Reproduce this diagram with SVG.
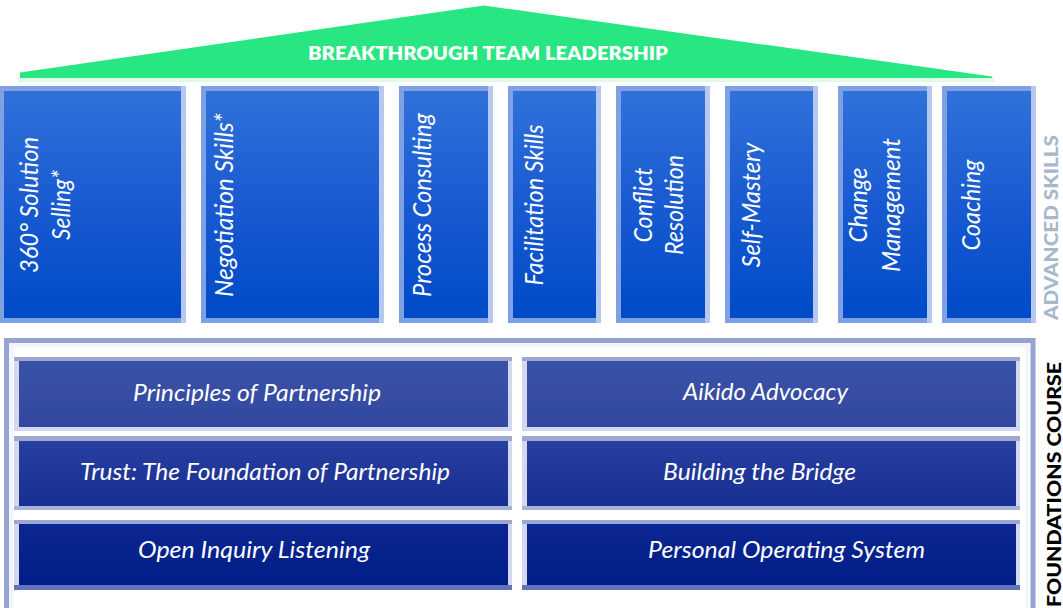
<svg xmlns="http://www.w3.org/2000/svg" width="1063" height="608" viewBox="0 0 1063 608">
  <defs>
    <linearGradient id="pillarFill" x1="0" y1="0" x2="0" y2="1">
      <stop offset="0" stop-color="#3072da"/>
      <stop offset="0.45" stop-color="#1b5cd2"/>
      <stop offset="1" stop-color="#004ac8"/>
    </linearGradient>
    <linearGradient id="barFill" gradientUnits="userSpaceOnUse" x1="0" y1="361" x2="0" y2="585">
      <stop offset="0" stop-color="#3a52a6"/>
      <stop offset="0.295" stop-color="#3248a0"/>
      <stop offset="0.357" stop-color="#283fa0"/>
      <stop offset="0.647" stop-color="#172f92"/>
      <stop offset="0.728" stop-color="#0b2690"/>
      <stop offset="1" stop-color="#001d88"/>
    </linearGradient>
    <style>
      .roof { fill: #28e681; }
      .roof-text { font-family: Lato, "Liberation Sans", sans-serif; font-weight: 800; font-size: 18px; fill: #ffffff; text-anchor: middle; }
      .p-edge { fill: #7fa1e3; }
      .p-edge-r { fill: #b6c8ef; }
      .p-body { fill: url(#pillarFill); }
      .p-text { font-family: Lato, "Open Sans", sans-serif; font-style: italic; font-size: 25px; fill: #ffffff; text-anchor: middle; }
      .frame { fill: none; stroke: #95a3d1; stroke-width: 5; }
      .frame-in { fill: none; stroke: #f3f5fb; stroke-width: 4; }
      .b-edge { fill: #d3d8ee; }
      .b-edge-t { fill: #9ca7d2; }
      .b-body { fill: url(#barFill); }
      .b-text { font-family: Lato, "Open Sans", sans-serif; font-style: italic; font-size: 24px; fill: #ffffff; }
      .side { font-family: Lato, "Liberation Sans", sans-serif; font-weight: 900; font-size: 19px; text-anchor: middle; }
    </style>
  </defs>

  <!-- roof -->
  <g id="roof">
    <rect x="18" y="77" width="976" height="5" fill="#e0f9ec"/>
    <polygon class="roof" points="20,78 20,72.5 484,5.5 992,76.5 992,78"/>
    <text class="roof-text" x="488" y="60" textLength="360" lengthAdjust="spacingAndGlyphs">BREAKTHROUGH TEAM LEADERSHIP</text>
  </g>

  <!-- advanced skill pillars -->
  <g id="pillar-solution-selling">
    <rect class="p-edge" x="0" y="86" width="186" height="237"/>
    <rect class="p-edge-r" x="181" y="86" width="5" height="237"/>
    <rect class="p-body" x="4" y="91" width="177" height="227"/>
    <text class="p-text" transform="translate(38,205) rotate(-90)" textLength="136" lengthAdjust="spacingAndGlyphs">360° Solution</text>
    <text class="p-text" transform="translate(70,205) rotate(-90)" textLength="70" lengthAdjust="spacingAndGlyphs">Selling*</text>
  </g>
  <g id="pillar-negotiation">
    <rect class="p-edge" x="201" y="86" width="183" height="237"/>
    <rect class="p-edge-r" x="379" y="86" width="5" height="237"/>
    <rect class="p-body" x="206" y="91" width="173" height="227"/>
    <text class="p-text" transform="translate(233,205) rotate(-90)" textLength="184" lengthAdjust="spacingAndGlyphs">Negotiation Skills*</text>
  </g>
  <g id="pillar-process">
    <rect class="p-edge" x="399" y="86" width="94" height="237"/>
    <rect class="p-edge-r" x="488" y="86" width="5" height="237"/>
    <rect class="p-body" x="404" y="91" width="84" height="227"/>
    <text class="p-text" transform="translate(431,205) rotate(-90)" textLength="184" lengthAdjust="spacingAndGlyphs">Process Consulting</text>
  </g>
  <g id="pillar-facilitation">
    <rect class="p-edge" x="508" y="86" width="93" height="237"/>
    <rect class="p-edge-r" x="596" y="86" width="5" height="237"/>
    <rect class="p-body" x="513" y="91" width="83" height="227"/>
    <text class="p-text" transform="translate(543,205) rotate(-90)" textLength="161" lengthAdjust="spacingAndGlyphs">Facilitation Skills</text>
  </g>
  <g id="pillar-conflict">
    <rect class="p-edge" x="616" y="86" width="94" height="237"/>
    <rect class="p-edge-r" x="705" y="86" width="5" height="237"/>
    <rect class="p-body" x="621" y="91" width="84" height="227"/>
    <text class="p-text" transform="translate(652,205) rotate(-90)" textLength="75" lengthAdjust="spacingAndGlyphs">Conflict</text>
    <text class="p-text" transform="translate(683,205) rotate(-90)" textLength="100" lengthAdjust="spacingAndGlyphs">Resolution</text>
  </g>
  <g id="pillar-self-mastery">
    <rect class="p-edge" x="725" y="86" width="93" height="237"/>
    <rect class="p-edge-r" x="813" y="86" width="5" height="237"/>
    <rect class="p-body" x="730" y="91" width="83" height="227"/>
    <text class="p-text" transform="translate(760,205) rotate(-90)" textLength="125" lengthAdjust="spacingAndGlyphs">Self-Mastery</text>
  </g>
  <g id="pillar-change">
    <rect class="p-edge" x="838" y="86" width="94" height="237"/>
    <rect class="p-edge-r" x="927" y="86" width="5" height="237"/>
    <rect class="p-body" x="843" y="91" width="84" height="227"/>
    <text class="p-text" transform="translate(867,205) rotate(-90)" textLength="75" lengthAdjust="spacingAndGlyphs">Change</text>
    <text class="p-text" transform="translate(900,205) rotate(-90)" textLength="134" lengthAdjust="spacingAndGlyphs">Management</text>
  </g>
  <g id="pillar-coaching">
    <rect class="p-edge" x="942" y="86" width="94" height="237"/>
    <rect class="p-edge-r" x="1031" y="86" width="5" height="237"/>
    <rect class="p-body" x="947" y="91" width="84" height="227"/>
    <text class="p-text" transform="translate(980,205) rotate(-90)" textLength="91" lengthAdjust="spacingAndGlyphs">Coaching</text>
  </g>

  <text id="label-advanced" class="side" fill="#a7b8cc" transform="translate(1058,227.5) rotate(-90)" textLength="185" lengthAdjust="spacingAndGlyphs">ADVANCED SKILLS</text>

  <!-- foundations frame -->
  <g id="foundations-frame">
    <rect class="frame-in" x="11" y="345" width="1016" height="300"/>
    <rect class="frame" x="6.5" y="340.5" width="1026.5" height="300"/>
  </g>

  <!-- foundation course bars -->
  <g id="bar-principles">
    <rect class="b-edge" x="14" y="357" width="498" height="74"/>
    <rect class="b-edge-t" x="14" y="357" width="498" height="4"/>
    <rect class="b-body" x="19" y="361" width="489" height="66"/>
    <text class="b-text" x="133" y="401" textLength="248" lengthAdjust="spacingAndGlyphs">Principles of Partnership</text>
  </g>
  <g id="bar-trust">
    <rect class="b-edge" x="14" y="436" width="498" height="74"/>
    <rect class="b-edge-t" x="14" y="436" width="498" height="5"/>
    <rect x="14" y="506" width="498" height="4" fill="#a9b2d9"/>
    <rect class="b-body" x="19" y="441" width="489" height="65"/>
    <text class="b-text" x="80" y="480" textLength="370" lengthAdjust="spacingAndGlyphs">Trust: The Foundation of Partnership</text>
  </g>
  <g id="bar-open-inquiry">
    <rect class="b-edge" x="14" y="520" width="498" height="70"/>
    <rect class="b-edge-t" x="14" y="520" width="498" height="4"/>
    <rect x="14" y="585" width="498" height="5" fill="#6373b9"/>
    <rect class="b-body" x="19" y="524" width="489" height="61"/>
    <text class="b-text" x="138" y="558" textLength="232" lengthAdjust="spacingAndGlyphs">Open Inquiry Listening</text>
  </g>
  <g id="bar-aikido">
    <rect class="b-edge" x="522" y="357" width="498" height="74"/>
    <rect class="b-edge-t" x="522" y="357" width="498" height="4"/>
    <rect class="b-body" x="527" y="361" width="489" height="66"/>
    <text class="b-text" x="683" y="400" textLength="165" lengthAdjust="spacingAndGlyphs">Aikido Advocacy</text>
  </g>
  <g id="bar-bridge">
    <rect class="b-edge" x="522" y="436" width="498" height="74"/>
    <rect class="b-edge-t" x="522" y="436" width="498" height="5"/>
    <rect x="522" y="506" width="498" height="4" fill="#a9b2d9"/>
    <rect class="b-body" x="527" y="441" width="489" height="65"/>
    <text class="b-text" x="663" y="480" textLength="193" lengthAdjust="spacingAndGlyphs">Building the Bridge</text>
  </g>
  <g id="bar-operating-system">
    <rect class="b-edge" x="522" y="520" width="498" height="70"/>
    <rect class="b-edge-t" x="522" y="520" width="498" height="4"/>
    <rect x="522" y="585" width="498" height="5" fill="#6373b9"/>
    <rect class="b-body" x="527" y="524" width="489" height="61"/>
    <text class="b-text" x="648" y="558" textLength="277" lengthAdjust="spacingAndGlyphs">Personal Operating System</text>
  </g>

  <text id="label-foundations" class="side" fill="#000000" transform="translate(1061,484.5) rotate(-90)" textLength="245" lengthAdjust="spacingAndGlyphs">FOUNDATIONS COURSE</text>
</svg>
